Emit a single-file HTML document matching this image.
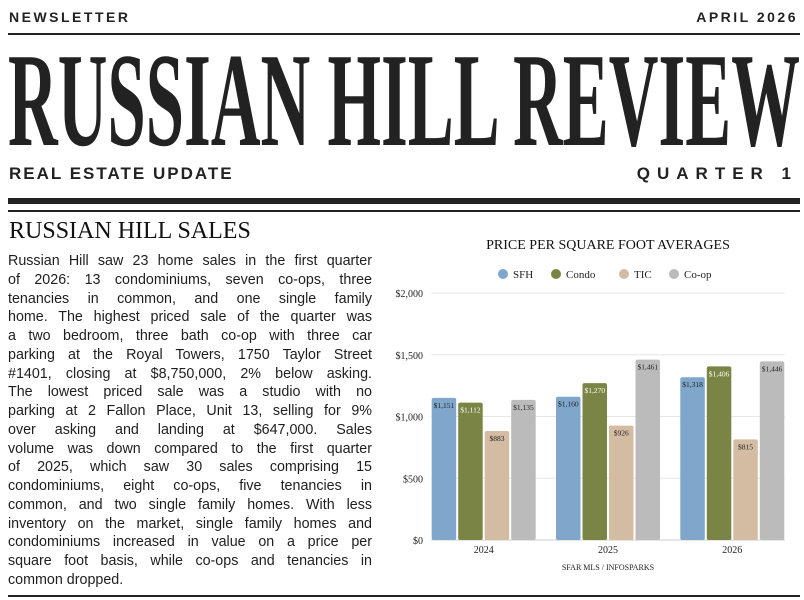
<!DOCTYPE html>
<html><head><meta charset="utf-8"><style>
body{margin:0;width:804px;height:600px;background:#fff;position:relative;overflow:hidden;font-family:"Liberation Sans",sans-serif;color:#222}
.abs{position:absolute}
.top{font-weight:bold;font-size:14px;letter-spacing:2.5px;top:9px}
.sub{font-weight:bold;font-size:17px;letter-spacing:2px;top:164px}
.rule{position:absolute;left:8px;width:792px;background:#222}
#body{left:8px;top:252px;width:364px;font-size:14.3px;line-height:18.75px;color:#1e1e1e}
#body div{text-align:justify;text-align-last:justify;white-space:nowrap}
#body div.last{text-align-last:left}
</style></head><body>
<div class="abs top" style="left:9px">NEWSLETTER</div>
<div class="abs top" style="right:6px">APRIL 2026</div>
<div class="rule" style="top:33px;height:2px"></div>
<svg class="abs" style="left:0;top:40px" width="804" height="120">
<text x="8" y="105" textLength="792" lengthAdjust="spacingAndGlyphs" font-family="Liberation Serif, serif" font-weight="bold" font-size="134" fill="#222">RUSSIAN HILL REVIEW</text></svg>
<div class="abs sub" style="left:9px">REAL ESTATE UPDATE</div>
<div class="abs sub" style="right:6px;letter-spacing:7px">QUARTER 1</div>
<div class="rule" style="top:198px;height:6px"></div>
<div class="rule" style="top:210px;height:2px"></div>
<div class="abs" style="left:9px;top:218px;font-family:'Liberation Serif',serif;font-size:24px;color:#111">RUSSIAN HILL SALES</div>
<div class="abs" id="body">
<div>Russian Hill saw 23 home sales in the first quarter</div>
<div>of 2026: 13 condominiums, seven co-ops, three</div>
<div>tenancies in common, and one single family</div>
<div>home. The highest priced sale of the quarter was</div>
<div>a two bedroom, three bath co-op with three car</div>
<div>parking at the Royal Towers, 1750 Taylor Street</div>
<div>#1401, closing at $8,750,000, 2% below asking.</div>
<div>The lowest priced sale was a studio with no</div>
<div>parking at 2 Fallon Place, Unit 13, selling for 9%</div>
<div>over asking and landing at $647,000. Sales</div>
<div>volume was down compared to the first quarter</div>
<div>of 2025, which saw 30 sales comprising 15</div>
<div>condominiums, eight co-ops, five tenancies in</div>
<div>common, and two single family homes. With less</div>
<div>inventory on the market, single family homes and</div>
<div>condominiums increased in value on a price per</div>
<div>square foot basis, while co-ops and tenancies in</div>
<div class="last">common dropped.</div>
</div>
<div class="rule" style="top:595px;height:2px"></div>
<svg id="chart" class="abs" style="left:0;top:0" width="804" height="600"></svg>
<script>
const categories=["2024","2025","2026"];
const seriesNames=["SFH","Condo","TIC","Co-op"];
const sfh=[1151,1160,1318];
const condo=[1112,1270,1406];
const tic=[883,926,815];
const coop=[1135,1461,1446];
const yTicks=[0,500,1000,1500,2000];
const colors=["#7ea7cb","#7a8545","#d3bca2","#bbbbbb"];
const labelColors=["#222","#fff","#222","#222"];
const series=[sfh,condo,tic,coop];
const svg=document.getElementById('chart');
const NS='http://www.w3.org/2000/svg';
const x0=431,x1=785,yTop=293,yBot=540;
const y=v=>yBot-(v/2000)*(yBot-yTop);
const band=(x1-x0)/categories.length;
function mk(t,a,txt){const e=document.createElementNS(NS,t);for(const k in a)e.setAttribute(k,a[k]);if(txt!==undefined)e.textContent=txt;svg.appendChild(e);return e;}
const fmt=v=>'$'+v.toLocaleString('en-US');
const serif='Liberation Serif, serif';
let t=mk('text',{x:608,y:249,'text-anchor':'middle','font-family':serif,'font-size':14,fill:'#111'},'PRICE PER SQUARE FOOT AVERAGES');


const legX=[503,556,624,674];
seriesNames.forEach((n,i)=>{
 const c=mk('circle',{cx:legX[i],cy:274,r:5,fill:colors[i]});
 
 
 const l=mk('text',{x:legX[i]+10,y:278,'font-family':serif,'font-size':11,fill:'#222'},n);
 
 
});
yTicks.forEach(v=>{
 const g=mk('line',{x1:x0,x2:x1,y1:y(v),y2:y(v),stroke:v===0?'#ccc':'#e6e6e6','stroke-width':1});
 
 
 const l=mk('text',{x:423,y:y(v)+4,'text-anchor':'end','font-family':serif,'font-size':10,fill:'#222'},fmt(v));
 
 
});
const bw=24.5,gap=2,pad=(band-(4*bw+3*gap))/2;
categories.forEach((c,ci)=>{
 const gx=x0+ci*band;
 series.forEach((s,si)=>{
  const bx=gx+pad+si*(bw+gap)-(ci===0?pad:0)*0.9+(ci===2?pad*0.9:0);
  const by=y(s[ci]);
  const r=mk('rect',{x:bx,y:by,width:bw,height:yBot-by,rx:2,fill:colors[si]});
  
  
  const l=mk('text',{x:bx+bw/2,y:by+10,'text-anchor':'middle','font-family':serif,'font-size':7.5,fill:labelColors[si]},fmt(s[ci]));
  
  
 });
 const cl=mk('text',{x:gx+band/2+(ci===0?-pad*0.9:0)+(ci===2?pad*0.9:0),y:553,'text-anchor':'middle','font-family':serif,'font-size':10,fill:'#222'},c);
 
 
});
t=mk('text',{x:608,y:570,'text-anchor':'middle','font-family':serif,'font-size':8,fill:'#222'},'SFAR MLS / INFOSPARKS');


</script>
</body></html>
